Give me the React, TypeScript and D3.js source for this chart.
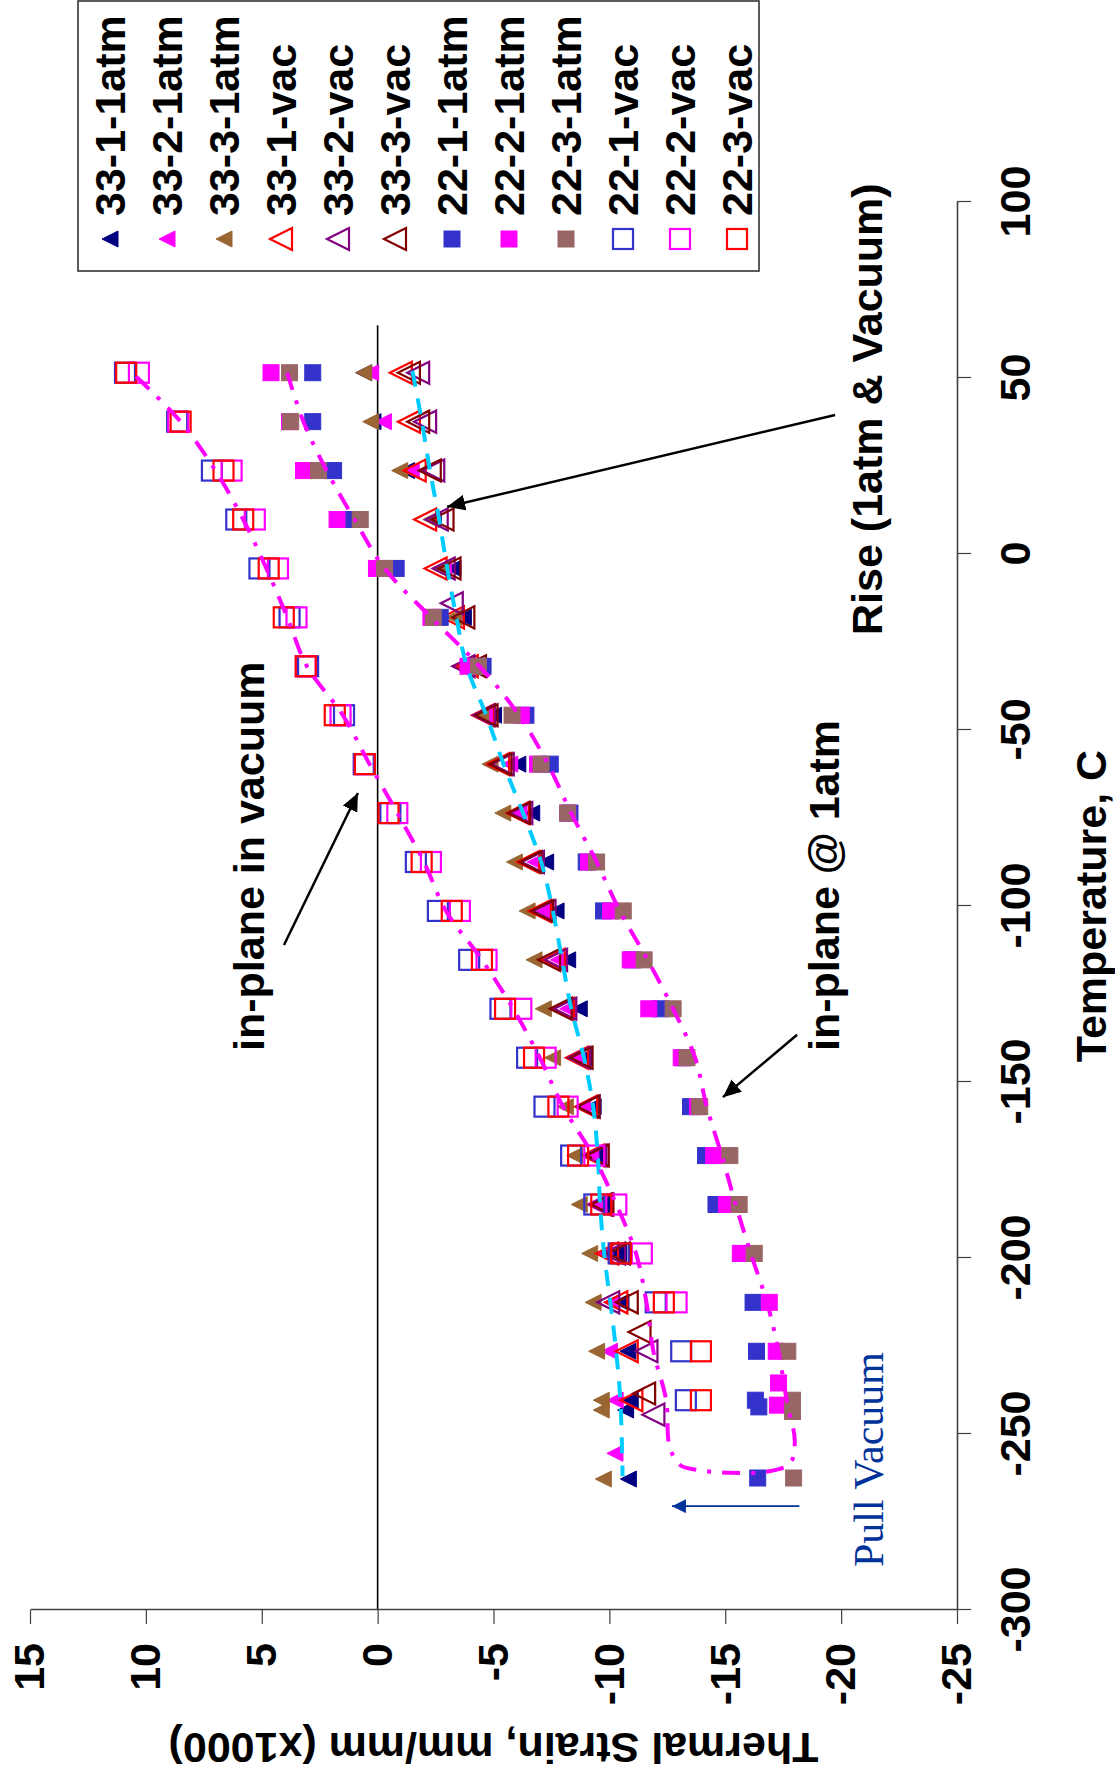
import { useEffect, useRef } from "react";
import * as d3 from "d3";

const W = 1115;
const H = 1783;

// ── data ────────────────────────────────────────────────────────────────────
// temperature steps shared by most runs (deg C)
const TEMPS = [
  51.5, 37.6, 23.7, 9.8, -4.1, -18.0, -31.9, -45.8, -59.7, -73.6, -87.5,
  -101.4, -115.3, -129.2, -143.1, -157.0, -170.9, -184.8, -198.7, -212.6, -226.5, -240.4,
];
const T_33_2_VAC = [
  51.5, 37.6, 23.7, 9.8, -4.1, -14.0, -31.9, -45.8, -59.7, -73.6, -87.5,
  -101.4, -115.3, -129.2, -143.1, -157.0, -170.9, -184.8, -198.7, -212.6, -226.5, -244.5,
];
const T_33_3_VAC = [
  51.5, 37.6, 23.7, 9.8, -4.1, -18.0, -31.9, -45.8, -59.7, -73.6, -87.5,
  -101.4, -115.3, -129.2, -143.1, -157.0, -170.9, -184.8, -198.7, -212.6, -221.0, -238.5,
];
const T_22_2_1ATM = [
  51.5, 37.6, 23.7, 9.8, -4.1, -18.0, -31.9, -45.8, -59.7, -73.6, -87.5,
  -101.4, -115.3, -129.2, -143.1, -157.0, -170.9, -184.8, -198.7, -212.6, -226.5, -235.5,
];

// thermal strain, mm/mm (x1000)
const S33_1_1ATM = [0.6, 0.2, -1.25, -2.4, -3.25, -3.7, -4.0, -5.0, -6.05, -6.65, -7.25, -7.7, -8.2, -8.7, -8.9, -9.3, -9.5, -9.7, -10.4, -10.5, -10.8, -10.9];
const S33_2_1ATM = [0.3, -0.25, -1.45, -2.35, -2.85, -3.4, -3.85, -4.7, -5.7, -6.1, -6.8, -7.2, -7.8, -8.2, -8.6, -8.85, -9.2, -9.35, -9.8, -10.1, -10.0, -10.25];
const S33_3_1ATM = [0.6, 0.3, -0.95, -2.3, -2.75, -3.3, -3.55, -4.45, -4.85, -5.4, -5.9, -6.45, -6.75, -7.15, -7.55, -8.1, -8.5, -8.7, -9.15, -9.3, -9.45, -9.65];
const S33_1_VAC = [-1.0, -1.35, -1.6, -2.05, -2.5, -3.25, -3.85, -4.55, -5.2, -6.05, -6.5, -7.0, -7.6, -8.0, -8.6, -9.0, -9.3, -9.65, -9.9, -10.3, -10.75, -10.95];
const S33_2_VAC = [-1.75, -2.05, -2.4, -2.55, -2.85, -3.2, -3.7, -4.6, -5.4, -6.2, -6.7, -7.2, -7.7, -8.1, -8.7, -9.1, -9.4, -9.6, -10.2, -9.95, -11.6, -11.9];
const S33_3_VAC = [-1.35, -1.75, -2.25, -2.8, -3.1, -3.7, -4.2, -4.7, -5.3, -6.1, -6.6, -7.1, -7.4, -7.9, -8.8, -9.1, -9.5, -9.7, -10.4, -10.75, -11.3, -11.5];
const S22_1_1ATM = [2.8, 2.8, 1.9, 1.05, -0.8, -2.7, -4.55, -6.4, -7.45, -8.3, -9.0, -9.75, -11.0, -12.2, -13.2, -13.5, -14.15, -14.6, -15.7, -16.2, -16.35, -16.3];
const S22_2_1ATM = [4.6, 3.8, 3.2, 1.75, 0.05, -2.3, -3.9, -6.2, -6.9, -8.2, -9.1, -10.05, -10.9, -11.7, -13.1, -13.8, -14.5, -15.05, -15.65, -16.9, -17.2, -17.3];
const S22_3_1ATM = [3.8, 3.75, 2.55, 0.75, -0.3, -2.4, -4.35, -5.8, -7.05, -8.2, -9.45, -10.6, -11.5, -12.75, -13.35, -13.9, -15.2, -15.6, -16.25, null, -17.7, -17.9];
const S22_1_VAC = [10.9, 8.65, 7.15, 6.1, 5.1, 3.8, 3.0, 1.45, 0.6, -0.55, -1.65, -2.6, -3.95, -5.3, -6.45, -7.2, -8.35, -9.35, -10.4, -12.0, -13.1, -13.3];
const S22_2_VAC = [10.3, 8.6, 6.3, 5.3, 4.3, 3.5, 3.1, 1.6, 0.55, -0.85, -2.3, -3.55, -4.7, -6.2, -7.25, -8.2, -9.35, -10.3, -11.4, -12.9, null, null];
const S22_3_VAC = [10.85, 8.5, 6.65, 5.8, 4.7, 4.05, 3.1, 1.85, 0.55, -0.47, -1.9, -3.2, -4.5, -5.5, -6.75, -7.8, -8.65, -9.65, -10.5, -12.35, -13.95, -13.95];

const SERIES_NAMES = [
  "33-1-1atm", "33-2-1atm", "33-3-1atm", "33-1-vac", "33-2-vac", "33-3-vac",
  "22-1-1atm", "22-2-1atm", "22-3-1atm", "22-1-vac", "22-2-vac", "22-3-vac",
];
const SERIES_TEMPS = [TEMPS, TEMPS, TEMPS, TEMPS, T_33_2_VAC, T_33_3_VAC, TEMPS, T_22_2_1ATM, TEMPS, TEMPS, TEMPS, TEMPS];
const SERIES_VALUES = [
  S33_1_1ATM, S33_2_1ATM, S33_3_1ATM, S33_1_VAC, S33_2_VAC, S33_3_VAC,
  S22_1_1ATM, S22_2_1ATM, S22_3_1ATM, S22_1_VAC, S22_2_VAC, S22_3_VAC,
];

// readings taken off the main grid: [series, temp, strain]
const EXTRA_POINTS: [string, number, number][] = [
  ["33-1-1atm", -243.2, -10.7],
  ["33-1-1atm", -262.8, -10.82],
  ["33-2-1atm", -255.5, -10.24],
  ["33-3-1atm", -243.2, -9.65],
  ["33-3-1atm", -262.8, -9.74],
  ["22-1-1atm", -242.3, -16.45],
  ["22-1-1atm", -262.5, -16.4],
  ["22-2-1atm", -241.8, -17.25],
  ["22-3-1atm", -243.6, -17.9],
  ["22-3-1atm", -262.5, -17.95],
];

// hand-drawn trend through the 33-x runs
const TREND_T = [52, 38, 24, 10, -4, -18, -32, -46, -60, -74, -88, -101, -115, -129, -143, -157, -171, -185, -199, -213, -227, -241, -262];
const TREND_S = [-1.5, -1.9, -2.25, -2.65, -3.0, -3.4, -3.85, -4.7, -5.45, -6.3, -7.08, -7.55, -7.95, -8.35, -8.9, -9.3, -9.5, -9.6, -9.78, -10.05, -10.3, -10.48, -10.57];

// cool-down at 1atm, pull vacuum, heat-up in vacuum (22-x runs)
const LOOP_T = [
  51.5, 37.6, 23.7, 9.8, -4.1, -18, -31.9, -45.8, -59.7, -73.6, -87.5, -101.4, -115.3, -129.2, -143.1,
  -157, -170.9, -184.8, -198.7, -212.6, -226.5, -240.4, -252, -258.3, -260.7, -261, -260.2, -258.8, -253.6,
  -240.4, -226.5, -212.6, -198.7, -184.8, -170.9, -157, -143.1, -129.2, -115.3, -101.4, -87.5, -73.6,
  -59.7, -45.8, -31.9, -18, -4.1, 9.8, 23.7, 37.6, 51.5,
];
const LOOP_S = [
  3.9, 3.2, 2.2, 1.0, -0.3, -2.3, -4.4, -6.1, -7.35, -8.35, -9.45, -10.45, -11.65, -12.75, -13.7,
  -14.2, -14.85, -15.45, -16.1, -16.8, -17.3, -17.65, -18.0, -17.8, -16.8, -15.2, -13.8, -13.05, -12.6,
  -12.45, -11.9, -11.6, -11.15, -10.3, -9.3, -8.0, -7.0, -5.85, -4.5, -2.95, -2.0, -0.85,
  0.35, 1.5, 3.05, 3.9, 4.8, 5.8, 7.0, 8.5, 10.6,
];

const TEMP_TICKS = [-300, -250, -200, -150, -100, -50, 0, 50, 100];
const STRAIN_TICKS = [15, 10, 5, 0, -5, -10, -15, -20, -25];

// ── styles ──────────────────────────────────────────────────────────────────
type Style = { shape: "tri" | "sq"; filled: boolean; color: string };
const STYLES: Style[] = [
  { shape: "tri", filled: true, color: "#000080" },
  { shape: "tri", filled: true, color: "#FF00FF" },
  { shape: "tri", filled: true, color: "#996633" },
  { shape: "tri", filled: false, color: "#FF0000" },
  { shape: "tri", filled: false, color: "#800080" },
  { shape: "tri", filled: false, color: "#800000" },
  { shape: "sq", filled: true, color: "#3333CC" },
  { shape: "sq", filled: true, color: "#FF00FF" },
  { shape: "sq", filled: true, color: "#996666" },
  { shape: "sq", filled: false, color: "#3333CC" },
  { shape: "sq", filled: false, color: "#FF00FF" },
  { shape: "sq", filled: false, color: "#FF0000" },
];

const SANS = "Arial, 'Liberation Sans', Helvetica, sans-serif";
const SERIF = "'Times New Roman', 'Liberation Serif', serif";

export default function App() {
  const svgRef = useRef<SVGSVGElement>(null);

  useEffect(() => {
    const svgEl = svgRef.current;
    if (!svgEl) return;
    const svg = d3.select(svgEl);
    svg.selectAll("*").remove();

    // the whole chart is drawn upright, then turned a quarter counter-clockwise
    const root = svg.append("g").attr("transform", `translate(0,${H}) rotate(-90)`);

    const x = d3.scaleLinear().domain([-300, 100]).range([173, 1581]);
    const y = d3.scaleLinear().domain([-25, 15]).range([957, 30]);

    // arrowheads
    const defs = svg.append("defs");
    const head = (id: string, color: string, len: number, half: number) =>
      defs
        .append("marker")
        .attr("id", id)
        .attr("markerUnits", "userSpaceOnUse")
        .attr("viewBox", `0 ${-half} ${len} ${half * 2}`)
        .attr("refX", len)
        .attr("refY", 0)
        .attr("markerWidth", len)
        .attr("markerHeight", half * 2)
        .attr("orient", "auto")
        .append("path")
        .attr("d", `M0,${-half}L${len},0L0,${half}Z`)
        .attr("fill", color);
    head("arrow-black", "#000", 18, 8);
    head("arrow-blue", "#003399", 14, 7);

    // zero line
    root
      .append("line")
      .attr("x1", x(-300))
      .attr("x2", x(65))
      .attr("y1", y(0))
      .attr("y2", y(0))
      .attr("stroke", "#000")
      .attr("stroke-width", 1.6);

    // ── axes ──
    const styleAxis = (g: d3.Selection<SVGGElement, unknown, null, undefined>) => {
      g.attr("font-family", SANS).attr("font-size", 43).attr("font-weight", "bold");
      g.select(".domain").attr("stroke", "#404040").attr("stroke-width", 1.6);
      g.selectAll(".tick line").attr("stroke", "#404040").attr("stroke-width", 1.2);
      g.selectAll(".tick text").attr("fill", "#000");
    };

    root
      .append("g")
      .attr("transform", `translate(0,${y(-25)})`)
      .call(
        d3.axisBottom(x).tickValues(TEMP_TICKS).tickSize(14).tickSizeOuter(0).tickPadding(28)
          .tickFormat((d) => String(d))
      )
      .call(styleAxis);

    root
      .append("g")
      .attr("transform", `translate(${x(-300)},0)`)
      .call(
        d3.axisLeft(y).tickValues(STRAIN_TICKS).tickSize(14).tickSizeOuter(0).tickPadding(19)
          .tickFormat((d) => String(d))
      )
      .call(styleAxis);

    root
      .append("text")
      .attr("x", (x(-300) + x(100)) / 2)
      .attr("y", 1106)
      .attr("text-anchor", "middle")
      .attr("font-family", SANS)
      .attr("font-size", 43)
      .attr("font-weight", "bold")
      .text("Temperature, C");

    root
      .append("text")
      .attr("transform", `translate(50,${(y(15) + y(-25)) / 2}) rotate(-90)`)
      .attr("text-anchor", "middle")
      .attr("font-family", SANS)
      .attr("font-size", 43)
      .attr("font-weight", "bold")
      .text("Thermal Strain, mm/mm (x1000)");

    // ── markers ──
    const drawMarker = (
      g: d3.Selection<SVGGElement, unknown, null, undefined>,
      st: Style,
      cx: number,
      cy: number
    ) => {
      if (st.shape === "tri") {
        const a = st.filled ? 16 : 22;
        g.append("path")
          .attr("d", `M0,${-a / 2}L${a / 2},${a / 2}L${-a / 2},${a / 2}Z`)
          .attr("transform", `translate(${cx},${cy})`)
          .attr("fill", st.filled ? st.color : "none")
          .attr("stroke", st.color)
          .attr("stroke-width", st.filled ? 1 : 2.2)
          .attr("stroke-linejoin", "miter");
      } else {
        const a = st.filled ? 16 : 20;
        g.append("rect")
          .attr("x", cx - a / 2)
          .attr("y", cy - a / 2)
          .attr("width", a)
          .attr("height", a)
          .attr("fill", st.filled ? st.color : "none")
          .attr("stroke", st.color)
          .attr("stroke-width", st.filled ? 1 : 2.2);
      }
    };

    SERIES_NAMES.forEach((name, i) => {
      const g = root.append("g").attr("class", "series");
      const temps = SERIES_TEMPS[i];
      SERIES_VALUES[i].forEach((s, k) => {
        if (s == null) return;
        drawMarker(g, STYLES[i], x(temps[k]), y(s));
      });
      EXTRA_POINTS.filter((p) => p[0] === name).forEach((p) => drawMarker(g, STYLES[i], x(p[1]), y(p[2])));
    });

    // ── trend lines ──
    const line = d3
      .line<[number, number]>()
      .x((d) => x(d[0]))
      .y((d) => y(d[1]))
      .curve(d3.curveCatmullRom.alpha(0.5));

    root
      .append("path")
      .attr("d", line(TREND_T.map((t, i) => [t, TREND_S[i]]) as [number, number][]))
      .attr("fill", "none")
      .attr("stroke", "#00CCFF")
      .attr("stroke-width", 4)
      .attr("stroke-dasharray", "16,12");

    root
      .append("path")
      .attr("d", line(LOOP_T.map((t, i) => [t, LOOP_S[i]]) as [number, number][]))
      .attr("fill", "none")
      .attr("stroke", "#FF00FF")
      .attr("stroke-width", 4)
      .attr("stroke-dasharray", "18,11,4,11");

    // ── annotations ──
    const label = (t: number, s: number, text: string, font = SANS, color = "#000", size = 43, weight = "bold") =>
      root
        .append("text")
        .attr("x", x(t))
        .attr("y", y(s))
        .attr("font-family", font)
        .attr("font-size", size)
        .attr("font-weight", weight)
        .attr("fill", color)
        .text(text);

    label(-141.2, 4.9, "in-plane in vacuum");
    label(-141.2, -19.9, "in-plane @ 1atm");
    label(-23.0, -21.76, "Rise (1atm & Vacuum)");
    label(-287.8, -21.8, "Pull Vacuum", SERIF, "#003399", 42, "normal");

    const arrow = (t1: number, s1: number, t2: number, s2: number, color: string, w: number, id: string) =>
      root
        .append("line")
        .attr("x1", x(t1))
        .attr("y1", y(s1))
        .attr("x2", x(t2))
        .attr("y2", y(s2))
        .attr("stroke", color)
        .attr("stroke-width", w)
        .attr("marker-end", `url(#${id})`);

    arrow(-111.1, 4.04, -67.9, 0.85, "#000", 2.5, "arrow-black");
    arrow(-136.6, -18.1, -154.3, -14.9, "#000", 2.5, "arrow-black");
    arrow(39.5, -19.74, 13.4, -3.0, "#000", 2.5, "arrow-black");
    arrow(-270.5, -18.2, -270.5, -12.7, "#003399", 1.8, "arrow-blue");

    // ── legend ──
    const legend = root.append("g").attr("class", "legend");
    legend
      .append("rect")
      .attr("x", 1512)
      .attr("y", 78)
      .attr("width", 270)
      .attr("height", 681)
      .attr("fill", "#fff")
      .attr("stroke", "#333")
      .attr("stroke-width", 1.6);

    SERIES_NAMES.forEach((name, i) => {
      const cy = 110 + i * 57;
      const item = legend.append("g");
      drawMarker(item, STYLES[i], 1544, cy);
      item
        .append("text")
        .attr("x", 1567)
        .attr("y", cy)
        .attr("dy", "0.36em")
        .attr("font-family", SANS)
        .attr("font-size", 43)
        .attr("font-weight", "bold")
        .text(name);
    });
  }, []);

  return (
    <svg
      ref={svgRef}
      width={W}
      height={H}
      style={{ position: "absolute", left: 0, top: 0, background: "#fff", display: "block" }}
    />
  );
}
